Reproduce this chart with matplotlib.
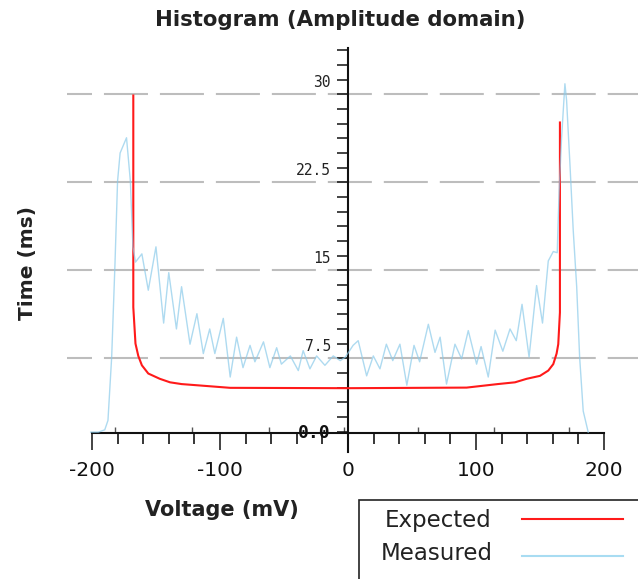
import numpy as np
import matplotlib
matplotlib.use("Agg")
from matplotlib import pyplot as plt
from matplotlib.lines import Line2D
from matplotlib.patches import Rectangle
from matplotlib.transforms import ScaledTranslation

# expected histogram (red), voltage in mV / time in ms
expected_v = [-167.7, -167.7, -166.0, -163.8, -161.0, -156.0, -147.0, -139.0, -130.0,
              -118.0, -92.0, 0.0, 92.7, 117.0, 130.5, 139.6, 150.0, 156.5, 160.4,
              163.0, 164.3, 165.6, 165.6]
expected_t = [29.9, 11.85, 8.75, 7.7, 6.9, 6.2, 5.75, 5.45, 5.3,
              5.2, 4.98, 4.95, 5.0, 5.3, 5.45, 5.75, 6.0, 6.45, 7.0,
              7.9, 8.7, 11.4, 27.6]

# measured histogram (light blue)
measured_v = [-201, -195, -190, -187.5, -184.6, -182, -180, -178, -173, -170, -168,
              -166, -161, -156, -150, -144, -140, -134, -130, -123.4, -118, -113,
              -108, -104, -97.4, -92, -87, -82, -76.5, -72.7, -66, -61, -55.7, -52,
              -45, -38.8, -35, -29.7, -24.5, -18, -11.5, -6, -2, 4, 8, 14.6, 19.8,
              25, 30, 35, 40.6, 46, 51.6, 56, 62.8, 68, 72, 77, 83.6, 88.8, 94,
              100.5, 104, 109.6, 115, 121, 126.6, 131.5, 136, 141.5, 147.4, 152,
              156.5, 160.4, 163.5, 164, 165, 166.9, 169.5, 170.8, 173.4, 176, 178.7,
              181, 183.8, 187.7]
measured_t = [1.2, 1.2, 1.4, 2.2, 7.6, 15.6, 22.6, 25.0, 26.3, 22.6, 17.0,
              15.7, 16.4, 13.3, 17.0, 10.5, 14.8, 10.0, 13.6, 8.7, 11.3, 7.9,
              10.0, 7.9, 10.9, 5.9, 9.3, 6.7, 8.6, 7.2, 8.9, 6.7, 8.4, 7.0,
              7.7, 6.45, 8.15, 6.6, 7.7, 6.9, 7.7, 7.3, 7.6, 8.6, 9.0, 6.0, 7.7,
              6.6, 8.7, 7.3, 8.7, 5.2, 8.6, 7.2, 10.4, 8.0, 9.3, 5.3, 8.7, 7.45, 9.86,
              7.0, 8.5, 5.9, 9.9, 8.1, 10.0, 9.0, 12.1, 7.6, 13.7, 10.5,
              15.8, 16.6, 16.5, 18.4, 21.8, 26.3, 30.9, 29.5, 24.1, 18.4, 13.6,
              7.6, 3.0, 1.2]

x_major = [-200, -100, 0, 100, 200]
x_upticks = [-182, -122, -62, -3, 55, 114, 173]
y_major = [7.5, 15, 22.5, 30]
y_labels = ["7.5", "15", "22.5", "30"]

plt.rcParams['lines.scale_dashes'] = False
plt.rcParams['font.family'] = 'DejaVu Sans'

W, H = 638, 579
y0 = 1.1  # where the x axis crosses
fig = plt.figure(figsize=(W / 100, H / 100), dpi=100)
ax = fig.add_axes([67 / W, (H - 452) / H, (638 - 67) / W, (452 - 48) / H])
ax.set_xlim(-219.5, 226.6)
ax.set_ylim(-0.49, 33.95)

ax.plot(expected_v, expected_t, color='#ff1a1a', lw=1.5, zorder=3)
ax.plot(measured_v, measured_t, color='#8ccbea', lw=1.0, alpha=0.7, zorder=4)

for s in ['top', 'right']:
    ax.spines[s].set_visible(False)
ax.spines['left'].set_position(('data', 0))
ax.spines['bottom'].set_position(('data', y0))
ax.spines['bottom'].set_bounds(-200, 200)
for s in ['left', 'bottom']:
    ax.spines[s].set_linewidth(1.5)
    ax.spines[s].set_color('#111111')

ax.set_xticks(x_major)
ax.set_xticks(np.arange(-200, 201, 20), minor=True)
ax.set_xticklabels([str(v) for v in x_major], fontsize=14.5)
ax.tick_params(axis='x', which='major', length=12, width=1.1, pad=8, colors='#111111')
ax.tick_params(axis='x', which='minor', length=8, width=1.1)

# small upward marks on the x axis
frac = (y0 - ax.get_ylim()[0]) / (ax.get_ylim()[1] - ax.get_ylim()[0])
sec = ax.secondary_xaxis(frac)
sec.set_xticks(x_upticks)
sec.tick_params(axis='x', direction='in', length=4, width=1.0, colors='#555555',
                labeltop=False, labelbottom=False)
for sp in sec.spines.values():
    sp.set_visible(False)

ax.set_yticks(y_major)
ax.set_yticks(np.arange(1.25, 33.8, 1.25), minor=True)
ax.set_yticklabels([])
ax.tick_params(axis='y', which='both', length=8, width=1.1, colors='#111111')

ax.set_axisbelow(True)
ax.yaxis.grid(True, which='major', color='#bdbdbd', lw=1.5,
              linestyle=(13.7, (31.7, 8.6)))

off = ScaledTranslation(-17 / 100, 4 / 100, fig.dpi_scale_trans)
for v, lab in zip(y_major, y_labels):
    ax.text(0, v, lab, transform=ax.transData + off, ha='right', va='bottom',
            fontsize=10.5, family='DejaVu Sans Mono', color='#222222')
o = ScaledTranslation(-17 / 100, 0, fig.dpi_scale_trans)
ax.text(0, y0, "0.0", transform=ax.transData + o, ha='right', va='center',
        fontsize=13, fontweight='bold', family='DejaVu Sans Mono', color='#111111')

fig.text(340 / W, 1 - 20 / H, "Histogram (Amplitude domain)", ha='center', va='center',
         fontsize=15.3, fontweight='bold', color='#222222')
fig.text(27 / W, 1 - 263 / H, "Time (ms)", ha='center', va='center', rotation=90,
         fontsize=14.5, fontweight='bold', color='#222222')
fig.text(222 / W, 1 - 510 / H, "Voltage (mV)", ha='center', va='center',
         fontsize=15, fontweight='bold', color='#222222')

# legend box, cut by the figure edge
fig.patches.append(Rectangle((359 / W, -0.2), 0.6, 0.2 + 1 - 500 / H,
                             transform=fig.transFigure, fill=False,
                             edgecolor='#222222', lw=1.2))
fig.lines.append(Line2D([522 / W, 623 / W], [1 - 519 / H] * 2, transform=fig.transFigure,
                        color='#ff1a1a', lw=1.5))
fig.lines.append(Line2D([522 / W, 623 / W], [1 - 556 / H] * 2, transform=fig.transFigure,
                        color='#a8dcf2', lw=1.5))
fig.text(438 / W, 1 - 520 / H, "Expected", ha='center', va='center', fontsize=16.5,
         color='#222222')
fig.text(437 / W, 1 - 553 / H, "Measured", ha='center', va='center', fontsize=16.5,
         color='#222222')

fig.savefig("out.png", dpi=100)
